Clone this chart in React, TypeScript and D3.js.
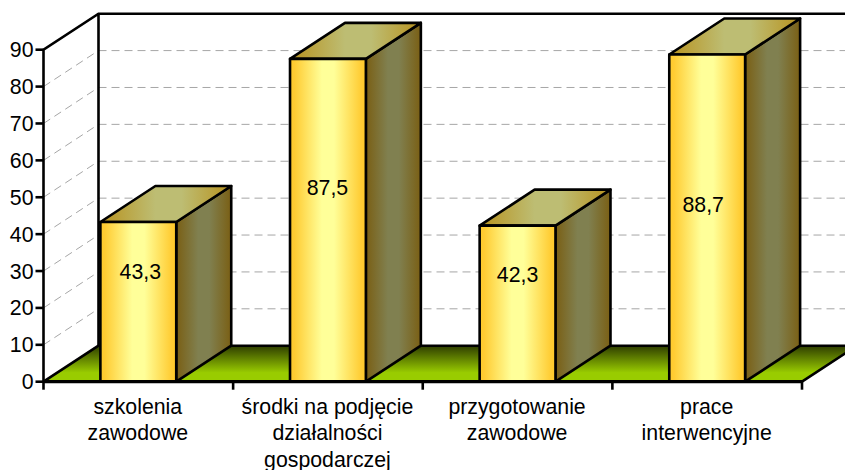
import React from "react";
import * as d3 from "d3";

const categories = [
  ["szkolenia", "zawodowe"],
  ["środki na podjęcie", "działalności", "gospodarczej"],
  ["przygotowanie", "zawodowe"],
  ["prace", "interwencyjne"],
];
const values = [43.3, 87.5, 42.3, 88.7];
const valueLabels = ["43,3", "87,5", "42,3", "88,7"];
const ticks = [0, 10, 20, 30, 40, 50, 60, 70, 80, 90];

const W = 845, H = 470;
const X0 = 43.5, X1 = 802, Y0 = 381.7, Y90 = 49.7;
const DX = 55, DY = -36;
const FONT = "'Liberation Sans', Arial, sans-serif";

export default function App() {
  const y = d3.scaleLinear().domain([0, 90]).range([Y0, Y90]);
  const x = d3.scaleBand<number>().domain([0, 1, 2, 3]).range([X0, X1]).paddingInner(0.6).paddingOuter(0.3);
  const labelDrop = [57.3, 136, 56.4, 157.8];
  const labelShift = [2, -0.5, 0, -4];
  const sw = 2.6;
  const fs = 21.3;
  return (
    <svg width={W} height={H} viewBox={`0 0 ${W} ${H}`} style={{ position: "absolute", left: 0, top: 0, background: "#fff" }}>
      <defs>
        <linearGradient id="front" x1="0" x2="1" y1="0" y2="0">
          <stop offset="0" stopColor="#ffc92b" />
          <stop offset="0.06" stopColor="#ffcc33" />
          <stop offset="0.42" stopColor="#ffff99" />
          <stop offset="0.58" stopColor="#ffff99" />
          <stop offset="0.94" stopColor="#ffcc33" />
          <stop offset="1" stopColor="#ffc92b" />
        </linearGradient>
        <linearGradient id="side" x1="0" x2="1" y1="0" y2="0">
          <stop offset="0" stopColor="#7a5f14" />
          <stop offset="0.4" stopColor="#808050" />
          <stop offset="0.6" stopColor="#808050" />
          <stop offset="1" stopColor="#7a5f14" />
        </linearGradient>
        <linearGradient id="top" x1="0" x2="1" y1="0" y2="0">
          <stop offset="0" stopColor="#b8921e" />
          <stop offset="0.42" stopColor="#bdbd73" />
          <stop offset="0.62" stopColor="#bdbd73" />
          <stop offset="1" stopColor="#b8921e" />
        </linearGradient>
        <linearGradient id="floor" x1="0" x2="0" y1="0" y2="1">
          <stop offset="0" stopColor="#2e3d00" />
          <stop offset="0.75" stopColor="#99cc00" />
          <stop offset="1" stopColor="#99cc00" />
        </linearGradient>
      </defs>

      {/* back wall grid */}
      {ticks.slice(1, -1).map((t) => (
        <line key={t} x1={X0 + DX} x2={W} y1={y(t) + DY} y2={y(t) + DY} stroke="#a6a6a6" strokeWidth={1} strokeDasharray="8 5" />
      ))}
      {/* side wall grid */}
      {ticks.slice(1, -1).map((t) => (
        <line key={t} x1={X0} x2={X0 + DX} y1={y(t)} y2={y(t) + DY} stroke="#a6a6a6" strokeWidth={1} strokeDasharray="8 5" />
      ))}

      {/* floor */}
      <polygon
        points={`${X0},${Y0} ${X0 + DX},${Y0 + DY} ${X1 + DX},${Y0 + DY} ${X1},${Y0}`}
        fill="url(#floor)" stroke="#000" strokeWidth={sw} strokeLinejoin="round"
      />

      {/* walls */}
      <path
        d={`M${X0},${Y0} V${Y90} L${X0 + DX},${Y90 + DY} H${W + 5} M${X0 + DX},${Y90 + DY} V${Y0 + DY}`}
        fill="none" stroke="#000" strokeWidth={sw}
      />

      {/* axis ticks */}
      {ticks.map((t) => (
        <g key={t}>
          <line x1={X0 - 8} x2={X0} y1={y(t)} y2={y(t)} stroke="#000" strokeWidth={sw} />
          <text x={X0 - 10} y={y(t) + 7.5} textAnchor="end" fontFamily={FONT} fontSize={fs} fill="#000">{t}</text>
        </g>
      ))}
      {d3.range(5).map((i) => {
        const px = X0 + ((X1 - X0) * i) / 4;
        return <line key={i} x1={px} x2={px} y1={Y0} y2={Y0 + 8} stroke="#000" strokeWidth={sw} />;
      })}

      {/* bars */}
      {values.map((v, i) => {
        const l = x(i)!, r = l + x.bandwidth(), t = y(v);
        return (
          <g key={i} stroke="#000" strokeWidth={sw} strokeLinejoin="round">
            <polygon points={`${r},${Y0} ${r + DX},${Y0 + DY} ${r + DX},${t + DY} ${r},${t}`} fill="url(#side)" />
            <polygon points={`${l},${t} ${l + DX},${t + DY} ${r + DX},${t + DY} ${r},${t}`} fill="url(#top)" />
            <rect x={l} y={t} width={r - l} height={Y0 - t} fill="url(#front)" />
          </g>
        );
      })}

      {/* front edge */}
      <line x1={X0} x2={X1} y1={Y0} y2={Y0} stroke="#000" strokeWidth={sw + 0.6} />

      {/* value labels */}
      {values.map((v, i) => (
        <text key={i} x={x(i)! + x.bandwidth() / 2 + labelShift[i]} y={y(v) + labelDrop[i]} textAnchor="middle" fontFamily={FONT} fontSize={fs} fill="#000">
          {valueLabels[i]}
        </text>
      ))}

      {/* category labels */}
      {categories.map((lines, i) => (
        <text key={i} textAnchor="middle" fontFamily={FONT} fontSize={fs} fill="#000">
          {lines.map((s, j) => (
            <tspan key={j} x={x(i)! + x.bandwidth() / 2 - 0.5} y={413.5 + j * 26.7}>{s}</tspan>
          ))}
        </text>
      ))}
    </svg>
  );
}
